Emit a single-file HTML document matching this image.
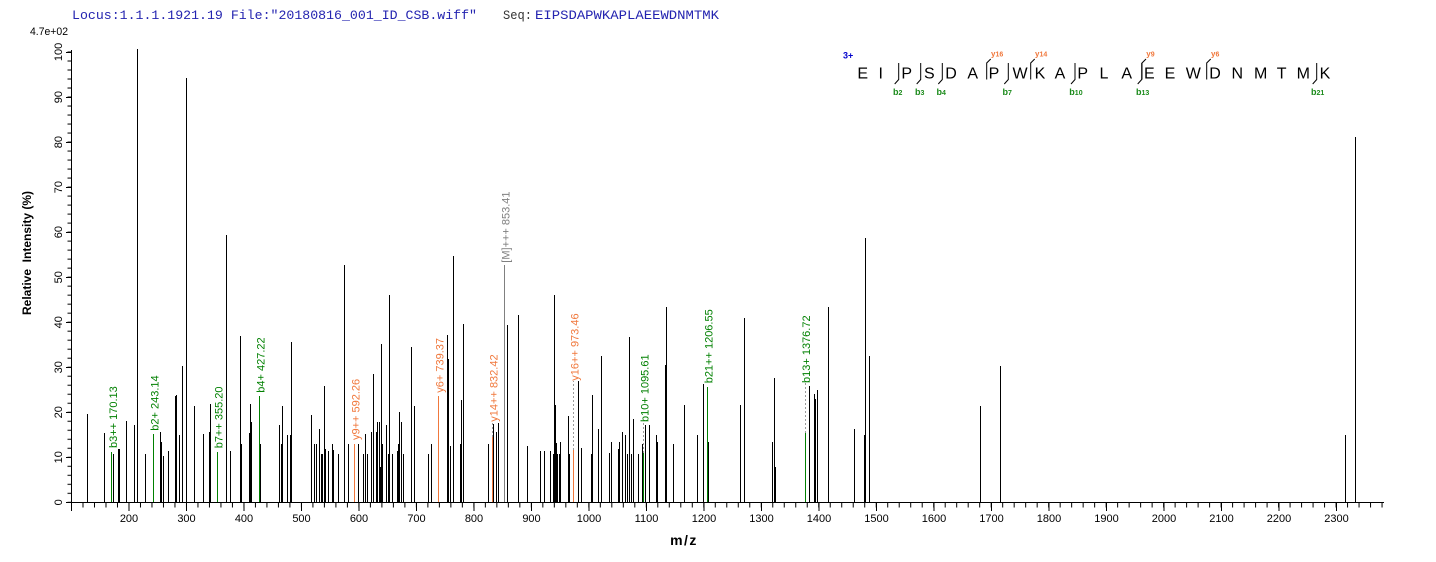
<!DOCTYPE html>
<html><head><meta charset="utf-8"><style>
html,body{margin:0;padding:0;background:#fff;}
svg{display:block;}
</style></head><body>
<svg width="1436" height="562" viewBox="0 0 1436 562" xmlns="http://www.w3.org/2000/svg" font-family="'Liberation Sans', Arial, sans-serif">
<defs>
<pattern id="xm" x="71" y="0" width="11.496" height="20" patternUnits="userSpaceOnUse"><rect x="0" y="0" width="1" height="20" fill="#000"/></pattern>
<pattern id="ym" x="0" y="51.5" width="20" height="9.006" patternUnits="userSpaceOnUse"><rect x="0" y="0" width="20" height="1" fill="#000"/></pattern>
</defs>
<rect width="1436" height="562" fill="#fff"/>

<!-- header -->
<text x="72" y="19" font-family="'Liberation Mono', 'Courier New', monospace" font-size="13" fill="#2424b0" textLength="405" lengthAdjust="spacingAndGlyphs">Locus:1.1.1.1921.19 File:"20180816_001_ID_CSB.wiff"</text>
<text x="503" y="19" font-family="'Liberation Mono', 'Courier New', monospace" font-size="13" fill="#333" textLength="29" lengthAdjust="spacingAndGlyphs">Seq:</text>
<text x="535" y="19" font-family="'Liberation Mono', 'Courier New', monospace" font-size="13" fill="#2424b0" textLength="184" lengthAdjust="spacingAndGlyphs">EIPSDAPWKAPLAEEWDNMTMK</text>
<text x="30" y="35" font-size="11" fill="#000" textLength="38" lengthAdjust="spacingAndGlyphs">4.7e+02</text>

<!-- axes -->
<g shape-rendering="crispEdges">
<line x1="71.5" y1="50" x2="71.5" y2="503" stroke="#000" stroke-width="1"/>
<line x1="71" y1="502.5" x2="1384" y2="502.5" stroke="#000" stroke-width="1"/>
<rect x="71" y="502" width="1313" height="5.5" fill="url(#xm)"/>
<rect x="67.5" y="51.5" width="4" height="451" fill="url(#ym)"/>
<path stroke="#000" stroke-width="1" fill="none" d="
M71.5,502 V511 M129,502 V511 M186.5,502 V511 M244,502 V511 M301.5,502 V511 M359,502 V511 M416.5,502 V511 M474,502 V511 M531.5,502 V511 M589,502 V511 M646.5,502 V511 M704,502 V511 M761.5,502 V511 M819,502 V511 M876.5,502 V511 M934,502 V511 M991.5,502 V511 M1049,502 V511 M1106.5,502 V511 M1164,502 V511 M1221.5,502 V511 M1279,502 V511 M1336.5,502 V511
M66,502.5 H71 M66,457.5 H71 M66,412.5 H71 M66,367.5 H71 M66,322.5 H71 M66,277.5 H71 M66,232.5 H71 M66,187.5 H71 M66,142.5 H71 M66,97.5 H71 M66,52.5 H71"/>
</g>

<!-- x labels -->
<g font-size="11" fill="#000" text-anchor="middle">
<text x="129" y="522">200</text><text x="186.5" y="522">300</text><text x="244" y="522">400</text><text x="301.5" y="522">500</text><text x="359" y="522">600</text><text x="416.5" y="522">700</text><text x="474" y="522">800</text><text x="531.5" y="522">900</text><text x="589" y="522">1000</text><text x="646.5" y="522">1100</text><text x="704" y="522">1200</text><text x="761.5" y="522">1300</text><text x="819" y="522">1400</text><text x="876.5" y="522">1500</text><text x="934" y="522">1600</text><text x="991.5" y="522">1700</text><text x="1049" y="522">1800</text><text x="1106.5" y="522">1900</text><text x="1164" y="522">2000</text><text x="1221.5" y="522">2100</text><text x="1279" y="522">2200</text><text x="1336.5" y="522">2300</text>
</g>
<!-- y labels -->
<g font-size="11" fill="#000" text-anchor="middle">
<text transform="translate(62,502.3) rotate(-90)">0</text>
<text transform="translate(62,457.3) rotate(-90)">10</text>
<text transform="translate(62,412.2) rotate(-90)">20</text>
<text transform="translate(62,367.2) rotate(-90)">30</text>
<text transform="translate(62,322.2) rotate(-90)">40</text>
<text transform="translate(62,277.2) rotate(-90)">50</text>
<text transform="translate(62,232.1) rotate(-90)">60</text>
<text transform="translate(62,187.1) rotate(-90)">70</text>
<text transform="translate(62,142.1) rotate(-90)">80</text>
<text transform="translate(62,97.1) rotate(-90)">90</text>
<text transform="translate(62,52) rotate(-90)">100</text>
</g>
<text transform="translate(31,253) rotate(-90)" text-anchor="middle" font-weight="bold" font-size="12" fill="#000" xml:space="preserve">Relative  Intensity (%)</text>
<text x="684" y="545" text-anchor="middle" font-weight="bold" font-size="14" fill="#000" letter-spacing="1.5">m/z</text>

<!-- black peaks -->
<path stroke="#000" stroke-width="1" fill="none" shape-rendering="crispEdges" d="
M87.5,502V414 M104.5,502V433 M113.5,502V454 M118.5,502V449 M119.5,502V449 M126.5,502V421 M134.5,502V425 M137.5,502V49 M145.5,502V454 M160.5,502V432 M161.5,502V442 M163.5,502V456 M168.5,502V451 M175.5,502V396 M176.5,502V395 M179.5,502V435 M182.5,502V366 M186.5,502V78
M194.5,502V406 M203.5,502V434 M209.5,502V432 M210.5,502V404 M226.5,502V235 M230.5,502V451 M240.5,502V336 M241.5,502V444 M249.5,502V433 M250.5,502V404 M251.5,502V422 M260.5,502V444 M279.5,502V425 M281.5,502V444 M282.5,502V406 M287.5,502V435 M290.5,502V435 M291.5,502V342
M311.5,502V415 M314.5,502V444 M316.5,502V444 M319.5,502V429 M321.5,502V454 M322.5,502V454 M324.5,502V386 M325.5,502V449 M328.5,502V451 M332.5,502V444 M333.5,502V450 M338.5,502V454 M344.5,502V265 M348.5,502V444 M358.5,502V444 M363.5,502V454 M365.5,502V434 M367.5,502V454 M371.5,502V432 M373.5,502V374 M376.5,502V432 M377.5,502V422 M379.5,502V422 M380.5,502V467 M381.5,502V344 M382.5,502V444 M386.5,502V425 M388.5,502V454 M389.5,502V295 M392.5,502V454 M397.5,502V451 M398.5,502V444 M399.5,502V412 M401.5,502V422 M403.5,502V454
M411.5,502V347 M414.5,502V406 M428.5,502V454 M431.5,502V444 M447.5,502V335 M448.5,502V359 M450.5,502V446 M453.5,502V256 M460.5,502V444 M461.5,502V400 M463.5,502V324
M488.5,502V444 M493.5,502V424 M496.5,502V432 M498.5,502V423 M507.5,502V325 M518.5,502V315 M527.5,502V446 M540.5,502V451 M544.5,502V451 M550.5,502V451 M553.5,502V454 M554.5,502V295 M555.5,502V405 M556.5,502V443 M557.5,502V454 M559.5,502V454 M560.5,502V442 M568.5,502V416 M569.5,502V454 M578.5,502V381 M581.5,502V448 M591.5,502V454 M592.5,502V395 M598.5,502V429
M601.5,502V356 M609.5,502V453 M611.5,502V442 M618.5,502V449 M619.5,502V442 M622.5,502V432 M625.5,502V435 M627.5,502V454 M629.5,502V337 M631.5,502V454 M633.5,502V419 M638.5,502V454 M642.5,502V444 M645.5,502V425 M649.5,502V425 M656.5,502V435 M657.5,502V442 M665.5,502V365 M666.5,502V307 M673.5,502V444 M684.5,502V405 M697.5,502V435
M703.5,502V384 M708.5,502V442 M740.5,502V405 M744.5,502V318 M772.5,502V442 M774.5,502V378 M775.5,502V467 M809.5,502V386 M814.5,502V394 M815.5,502V399 M817.5,502V390 M828.5,502V307 M854.5,502V429 M864.5,502V435 M865.5,502V238 M869.5,502V356
M980.5,502V406 M1000.5,502V366 M1345.5,502V435 M1355.5,502V137"/>

<!-- annotated peaks -->
<path stroke="#008000" stroke-width="1" fill="none" shape-rendering="crispEdges" d="M111.5,502V452 M153.5,502V434 M217.5,502V452 M259.5,502V396 M643.5,502V453 M707.5,502V387 M805.5,502V433"/>
<path stroke="#f0783c" stroke-width="1" fill="none" shape-rendering="crispEdges" d="M354.5,502V444 M438.5,502V396 M492.5,502V437 M573.5,502V450"/>
<path stroke="#808080" stroke-width="1" fill="none" shape-rendering="crispEdges" d="M504.5,502V265"/>
<path stroke="#9a9a9a" stroke-width="1" fill="none" stroke-dasharray="2,2" shape-rendering="crispEdges" d="M492.5,437V422 M573.5,450V381 M643.5,453V423 M805.5,433V383"/>

<!-- peak labels -->
<g font-size="11">
<text transform="translate(116.8,448) rotate(-90)" fill="#008000">b3++ 170.13</text>
<text transform="translate(158.3,430.7) rotate(-90)" fill="#008000">b2+ 243.14</text>
<text transform="translate(222.3,448.3) rotate(-90)" fill="#008000">b7++ 355.20</text>
<text transform="translate(264.3,392.7) rotate(-90)" fill="#008000">b4+ 427.22</text>
<text transform="translate(359.3,440) rotate(-90)" fill="#f0783c">y9++ 592.26</text>
<text transform="translate(443.7,392.7) rotate(-90)" fill="#f0783c">y6+ 739.37</text>
<text transform="translate(497.3,421.7) rotate(-90)" fill="#f0783c">y14++ 832.42</text>
<text transform="translate(509.3,262.7) rotate(-90)" fill="#808080">[M]+++ 853.41</text>
<text transform="translate(578.3,380.7) rotate(-90)" fill="#f0783c">y16++ 973.46</text>
<text transform="translate(648.3,422) rotate(-90)" fill="#008000">b10+ 1095.61</text>
<text transform="translate(712.3,383.3) rotate(-90)" fill="#008000">b21++ 1206.55</text>
<text transform="translate(810,383) rotate(-90)" fill="#008000">b13+ 1376.72</text>
</g>

<!-- sequence annotation -->
<text x="843" y="58.5" font-size="9" font-weight="bold" fill="#0000cc">3+</text>
<g font-size="16" fill="#000" text-anchor="middle">
<text x="862.7" y="78.5">E</text><text x="880.7" y="78.5">I</text><text x="906.7" y="78.5">P</text><text x="929.3" y="78.5">S</text><text x="951" y="78.5">D</text><text x="972.7" y="78.5">A</text><text x="994" y="78.5">P</text><text x="1020" y="78.5">W</text><text x="1040" y="78.5">K</text><text x="1060" y="78.5">A</text><text x="1082.7" y="78.5">P</text><text x="1104" y="78.5">L</text><text x="1126.7" y="78.5">A</text><text x="1149.3" y="78.5">E</text><text x="1170" y="78.5">E</text><text x="1193.3" y="78.5">W</text><text x="1215" y="78.5">D</text><text x="1237.3" y="78.5">N</text><text x="1260.7" y="78.5">M</text><text x="1281.7" y="78.5">T</text><text x="1303.3" y="78.5">M</text><text x="1325" y="78.5">K</text>
</g>
<path stroke="#000" stroke-width="1" fill="none" d="
M898.7,63V79.5L894.7,84 M920.7,63V79.5L916.7,84 M942.3,63V79.5L938.3,84 M1008.3,63V79.5L1004.3,84 M1075,63V79.5L1071,84 M1141.7,63V79.5L1137.7,84 M1316.7,63V79.5L1312.7,84
M986.7,79.5V63L990.7,59 M1030.7,79.5V63L1034.7,59 M1142,79.5V63L1146,59 M1206.7,79.5V63L1210.7,59"/>
<g font-weight="bold" fill="#1a8a1a">
<text x="893" y="95" font-size="9">b<tspan font-size="7">2</tspan></text>
<text x="915" y="95" font-size="9">b<tspan font-size="7">3</tspan></text>
<text x="936.5" y="95" font-size="9">b<tspan font-size="7">4</tspan></text>
<text x="1002.5" y="95" font-size="9">b<tspan font-size="7">7</tspan></text>
<text x="1069.3" y="95" font-size="9">b<tspan font-size="7">10</tspan></text>
<text x="1136" y="95" font-size="9">b<tspan font-size="7">13</tspan></text>
<text x="1311" y="95" font-size="9">b<tspan font-size="7">21</tspan></text>
</g>
<g font-weight="bold" fill="#f0783c">
<text x="991" y="56.5" font-size="8">y<tspan font-size="7">16</tspan></text>
<text x="1035" y="56.5" font-size="8">y<tspan font-size="7">14</tspan></text>
<text x="1146.3" y="56.5" font-size="8">y<tspan font-size="7">9</tspan></text>
<text x="1211" y="56.5" font-size="8">y<tspan font-size="7">6</tspan></text>
</g>
</svg>
</body></html>
